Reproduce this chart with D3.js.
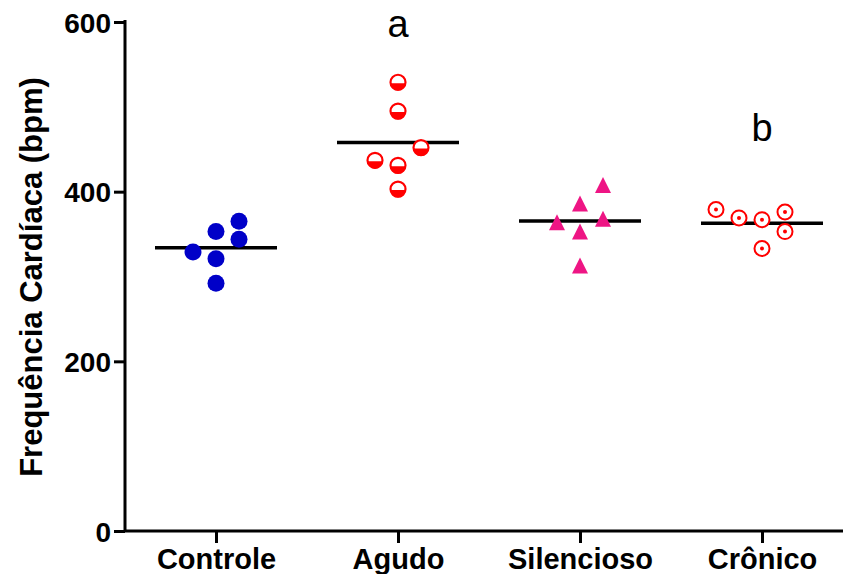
<!DOCTYPE html>
<html>
<head>
<meta charset="utf-8">
<script src="https://cdn.jsdelivr.net/npm/d3@7"></script>
<style>
  body { margin: 0; background: #fff; }
  svg { display: block; font-family: "Liberation Sans", Arial, sans-serif; }
</style>
</head>
<body>
<div id="chart"></div>
<script>
"use strict";

// == DATA ==
var categories = ["Controle", "Agudo", "Silencioso", "Crônico"];
var controle   = [329, 353, 321, 292, 365, 344];
var agudo      = [529, 495, 452, 437, 431, 403];
var silencioso = [408, 386, 364, 368, 353, 313];
var cronico    = [379, 369, 367, 376, 353, 333];
// column slot of each point inside its group (scatter spread)
var controleSlot   = [-1, 0, 0, 0, 1, 1];
var agudoSlot      = [0, 0, 1, -1, 0, 0];
var silenciosoSlot = [1, 0, -1, 1, 0, 0];
var cronicoSlot    = [-2, -1, 0, 1, 1, 0];
var yTicks = [0, 200, 400, 600];
var sigLetters = ["", "a", "", "b"];
var sigValues  = [null, 582, null, 460];

// == BOILERPLATE ==
var width = 843, height = 574;

var svg = d3.select("#chart")
  .append("svg")
  .attr("width", width)
  .attr("height", height);

var x = d3.scalePoint()
  .domain(categories)
  .range([125, 853])
  .padding(0.5);

var y = d3.scaleLinear()
  .domain([0, 600])
  .range([531, 22]);

var slotW = 23;

var groups = [
  { name: "Controle",   values: controle,   slots: controleSlot,   shape: "dot",    color: "#0000c8" },
  { name: "Agudo",      values: agudo,      slots: agudoSlot,      shape: "half",   color: "#ff0000" },
  { name: "Silencioso", values: silencioso, slots: silenciosoSlot, shape: "tri",    color: "#ee1584" },
  { name: "Crônico",    values: cronico,    slots: cronicoSlot,    shape: "target", color: "#ff0000" }
];

// == AXES ==
var yAxis = svg.append("g")
  .attr("transform", "translate(125,0)")
  .call(d3.axisLeft(y).tickValues(yTicks).tickSize(11).tickPadding(3).tickFormat(d3.format("d")));

var xAxis = svg.append("g")
  .attr("transform", "translate(0,531)")
  .call(d3.axisBottom(x).tickSize(12).tickPadding(5));

[yAxis, xAxis].forEach(function (ax) {
  ax.select(".domain").attr("stroke", "#000").attr("stroke-width", 3);
  ax.selectAll(".tick line").attr("stroke", "#000").attr("stroke-width", 3);
  ax.selectAll("text").attr("fill", "#000").attr("font-weight", "bold");
});
yAxis.select(".domain").attr("d", "M0,20V531");
xAxis.select(".domain").attr("d", "M125,0H843");
yAxis.selectAll("text").attr("font-size", 28).attr("dy", "0.36em");
xAxis.selectAll("text").attr("font-size", 29).attr("dy", "0.71em");

svg.append("text")
  .attr("transform", "translate(42,277) rotate(-90)")
  .attr("text-anchor", "middle")
  .attr("font-size", 31)
  .attr("font-weight", "bold")
  .text("Frequência Cardíaca (bpm)");

// == MEAN LINES ==
svg.selectAll("line.mean")
  .data(groups)
  .enter()
  .append("line")
  .attr("class", "mean")
  .attr("x1", function (d) { return x(d.name) - 61; })
  .attr("x2", function (d) { return x(d.name) + 61; })
  .attr("y1", function (d) { return y(d3.mean(d.values)); })
  .attr("y2", function (d) { return y(d3.mean(d.values)); })
  .attr("stroke", "#000")
  .attr("stroke-width", 3.5);

// == POINTS ==
var r = 8.5;
groups.forEach(function (g) {
  var pts = svg.append("g").selectAll("g")
    .data(g.values)
    .enter()
    .append("g")
    .attr("transform", function (d, i) {
      return "translate(" + (x(g.name) + g.slots[i] * slotW) + "," + y(d) + ")";
    });

  if (g.shape === "dot") {
    pts.append("circle").attr("r", r).attr("fill", g.color);
  } else if (g.shape === "half") {
    pts.append("circle").attr("r", r - 1).attr("fill", "#fff").attr("stroke", g.color).attr("stroke-width", 2.2);
    pts.append("path")
      .attr("d", "M" + (-r + 1) + ",1A" + (r - 1) + "," + (r - 1) + " 0 0 0 " + (r - 1) + ",1Z")
      .attr("fill", g.color);
  } else if (g.shape === "tri") {
    pts.append("path").attr("d", "M0,-8L8,8L-8,8Z").attr("fill", g.color);
  } else {
    pts.append("circle").attr("r", r - 1).attr("fill", "#fff").attr("stroke", g.color).attr("stroke-width", 2);
    pts.append("circle").attr("r", 2).attr("fill", g.color);
  }
});

// == SIGNIFICANCE LETTERS ==
svg.selectAll("text.sig")
  .data(categories.filter(function (c, i) { return sigLetters[i]; }))
  .enter()
  .append("text")
  .attr("class", "sig")
  .attr("x", function (c) { return x(c); })
  .attr("y", function (c) { return y(sigValues[categories.indexOf(c)]); })
  .attr("text-anchor", "middle")
  .attr("font-size", 38)
  .text(function (c) { return sigLetters[categories.indexOf(c)]; });
</script>
</body>
</html>
